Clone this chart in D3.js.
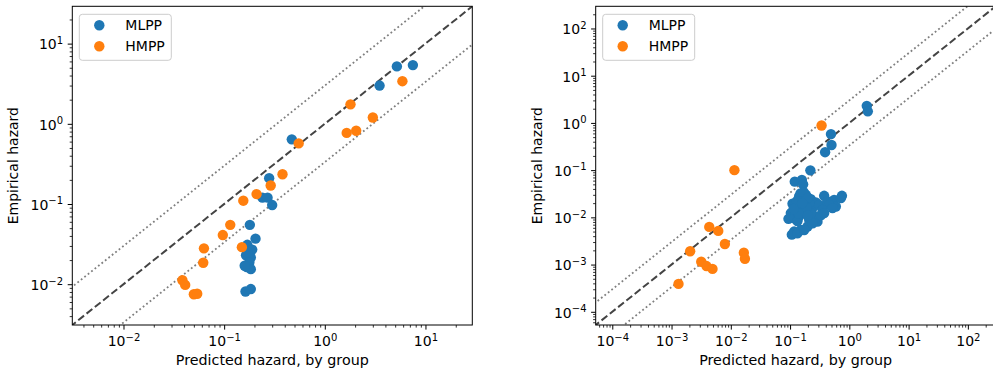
<!DOCTYPE html>
<html>
<head>
<meta charset="utf-8">
<script src="https://cdn.jsdelivr.net/npm/d3@7"></script>
<style>
body { margin: 0; background: #fff; }
text { font-family: "DejaVu Sans", sans-serif; fill: #000; }
</style>
</head>
<body>
<div id="chart"></div>
<script>
var seriesNames = ["MLPP", "HMPP"];
var seriesColors = ["#1f77b4", "#ff7f0e"];

// left panel, predicted vs empirical
var leftMlppPred = [7.5, 5.2, 3.5, 0.47, 0.28, 0.24, 0.27, 0.30, 0.18, 0.205, 0.17, 0.19, 0.165, 0.184, 0.178, 0.168, 0.184, 0.163, 0.184, 0.17, 0.16];
var leftMlppEmp  = [5.4, 5.2, 3.0, 0.64, 0.21, 0.12, 0.12, 0.097, 0.055, 0.037, 0.031, 0.027, 0.023, 0.0215, 0.0186, 0.0164, 0.0154, 0.0081, 0.0087, 0.025, 0.017];
var leftHmppPred = [5.9, 1.8, 3.0, 1.65, 2.05, 0.55, 0.38, 0.29, 0.21, 0.155, 0.115, 0.097, 0.15, 0.063, 0.062, 0.0385, 0.041, 0.05, 0.054];
var leftHmppEmp  = [3.4, 1.75, 1.2, 0.77, 0.82, 0.57, 0.235, 0.17, 0.133, 0.11, 0.055, 0.041, 0.029, 0.028, 0.0185, 0.0112, 0.0098, 0.0075, 0.0076];

// right panel
var rightMlppPred = [1.97, 2.05, 0.49, 0.5, 0.39, 0.22, 0.12, 0.158, 0.166, 0.376, 0.75,
  0.11, 0.142, 0.185, 0.224, 0.272, 0.125, 0.162, 0.103, 0.094, 0.117, 0.142, 0.185, 0.239, 0.31,
  0.427, 0.554, 0.592, 0.457, 0.352, 0.272, 0.21, 0.29, 0.197, 0.152, 0.117, 0.107, 0.133, 0.173,
  0.255, 0.72, 0.162, 0.21, 0.173, 0.133, 0.224, 0.33, 0.376, 0.52,
  0.15, 0.17, 0.2, 0.13, 0.19, 0.16, 0.14, 0.24, 0.115, 0.2];
var rightMlppEmp  = [2.3, 1.76, 0.58, 0.34, 0.24, 0.099, 0.057, 0.062, 0.05, 0.0286, 0.0286,
  0.0194, 0.0277, 0.03, 0.0243, 0.0206, 0.0149, 0.017, 0.0123, 0.0093, 0.0096, 0.0104, 0.0123, 0.0157, 0.0184,
  0.0217, 0.0235, 0.017, 0.0184, 0.0144, 0.0104, 0.0089, 0.0081, 0.0064, 0.0054, 0.005, 0.0043, 0.0046, 0.0054,
  0.0089, 0.0256, 0.0235, 0.02, 0.0123, 0.0083, 0.0123, 0.011, 0.0123, 0.0157,
  0.032, 0.034, 0.026, 0.022, 0.016, 0.02, 0.012, 0.0075, 0.015, 0.011];
var rightHmppPred = [0.34, 0.0115, 0.00433, 0.00614, 0.00794, 0.00206, 0.0166, 0.0173, 0.00317, 0.00389, 0.00491, 0.00131];
var rightHmppEmp  = [0.88, 0.1, 0.00628, 0.00516, 0.00273, 0.00191, 0.00179, 0.00133, 0.00115, 0.00093, 0.00081, 0.00039];

var leftExponents = [-2, -1, 0, 1];
var rightExponents = [-4, -3, -2, -1, 0, 1, 2];
var leftDomain = [0.0031, 29.2];
var rightDomain = [5.25e-5, 295];
var bandFactor = 3;

var xLabel = "Predicted hazard, by group";
var yLabel = "Empirical hazard";

var width = 993, height = 373;
var fs = 14;

var svg = d3.select("#chart")
  .append("svg")
  .attr("width", width)
  .attr("height", height);

function supLabel(sel) {
  sel.each(function(d) {
    var e = Math.round(Math.log10(d));
    var t = d3.select(this);
    t.text(null);
    t.append("tspan").text("10");
    t.append("tspan").attr("dy", -5.5).attr("font-size", 10)
      .text(e < 0 ? "\u2212" + (-e) : String(e));
  });
}

function minorTicks(domain) {
  var out = [];
  var lo = Math.floor(Math.log10(domain[0])), hi = Math.ceil(Math.log10(domain[1]));
  for (var k = lo; k <= hi; k++) {
    for (var m = 2; m <= 9; m++) {
      var v = m * Math.pow(10, k);
      if (v >= domain[0] && v <= domain[1]) out.push(v);
    }
  }
  return out;
}

function drawPanel(id, left, top, w, h, domain, exps, mlpp, hmpp, ylabX) {
  var g = svg.append("g").attr("transform", "translate(" + left + "," + top + ")");

  var x = d3.scaleLog().domain(domain).range([0, w]);
  var y = d3.scaleLog().domain(domain).range([h, 0]);

  g.append("clipPath").attr("id", "clip" + id)
    .append("rect").attr("width", w).attr("height", h);

  var plot = g.append("g").attr("clip-path", "url(#clip" + id + ")");

  var ends = [domain[0] / 100, domain[1] * 100];
  var line = d3.line().x(function(d) { return x(d[0]); }).y(function(d) { return y(d[1]); });

  // y = 3x and y = x/3
  [bandFactor, 1 / bandFactor].forEach(function(f) {
    plot.append("path")
      .datum(ends.map(function(v) { return [v, v * f]; }))
      .attr("d", line)
      .attr("fill", "none")
      .attr("stroke", "#7f7f7f")
      .attr("stroke-width", 1.8)
      .attr("stroke-dasharray", "1.8,2.6");
  });

  plot.append("path")
    .datum(ends.map(function(v) { return [v, v]; }))
    .attr("d", line)
    .attr("fill", "none")
    .attr("stroke", "#444")
    .attr("stroke-width", 2)
    .attr("stroke-dasharray", "7.4,3.2");

  [mlpp, hmpp].forEach(function(s, i) {
    plot.selectAll(".dot" + i)
      .data(s[0].map(function(p, j) { return [p, s[1][j]]; }))
      .enter().append("circle")
      .attr("class", "dot" + i)
      .attr("cx", function(d) { return x(d[0]); })
      .attr("cy", function(d) { return y(d[1]); })
      .attr("r", 5.2)
      .attr("fill", seriesColors[i]);
  });

  var majors = exps.map(function(e) { return Math.pow(10, e); });
  var minors = minorTicks(domain);

  // minor ticks
  g.append("g").attr("transform", "translate(0," + h + ")")
    .call(d3.axisBottom(x).tickValues(minors).tickSize(2.6).tickSizeOuter(0).tickFormat(""))
    .call(function(a) { a.select(".domain").remove(); a.selectAll("line").attr("stroke-width", 0.8); });
  g.append("g")
    .call(d3.axisLeft(y).tickValues(minors).tickSize(2.6).tickSizeOuter(0).tickFormat(""))
    .call(function(a) { a.select(".domain").remove(); a.selectAll("line").attr("stroke-width", 0.8); });

  // major ticks
  var gx = g.append("g").attr("transform", "translate(0," + h + ")")
    .call(d3.axisBottom(x).tickValues(majors).tickSize(4.6).tickPadding(4.6).tickSizeOuter(0));
  gx.select(".domain").remove();
  gx.selectAll(".tick text").attr("font-size", fs).attr("font-family", "DejaVu Sans")
    .attr("y", 21).attr("dy", null).call(supLabel);

  var gy = g.append("g")
    .call(d3.axisLeft(y).tickValues(majors).tickSize(4.6).tickPadding(4.6).tickSizeOuter(0));
  gy.select(".domain").remove();
  gy.selectAll(".tick text").attr("font-size", fs).attr("font-family", "DejaVu Sans")
    .attr("dy", 5.3).call(supLabel);

  g.append("rect")
    .attr("width", w).attr("height", h)
    .attr("fill", "none").attr("stroke", "#000").attr("stroke-width", 1);

  g.append("text")
    .attr("x", w / 2).attr("y", h + 40.5)
    .attr("text-anchor", "middle")
    .attr("font-size", fs)
    .attr("textLength", 193).attr("lengthAdjust", "spacingAndGlyphs")
    .text(xLabel);

  g.append("text")
    .attr("transform", "translate(" + ylabX + "," + (h / 2) + ") rotate(-90)")
    .attr("text-anchor", "middle")
    .attr("font-size", fs)
    .text(yLabel);

  // legend
  var lg = g.append("g").attr("transform", "translate(7,8)");
  lg.append("rect")
    .attr("width", 92).attr("height", 46).attr("rx", 3)
    .attr("fill", "#fff").attr("fill-opacity", 0.8)
    .attr("stroke", "#ccc").attr("stroke-width", 1);
  seriesNames.forEach(function(n, i) {
    lg.append("circle").attr("cx", 20).attr("cy", 11 + i * 21).attr("r", 5.2).attr("fill", seriesColors[i]);
    lg.append("text").attr("x", 46).attr("y", 16 + i * 21).attr("font-size", fs).text(n);
  });
}

drawPanel("L", 72.3, 6.3, 400, 318.7, leftDomain, leftExponents,
  [leftMlppPred, leftMlppEmp], [leftHmppPred, leftHmppEmp], -54.3);
drawPanel("R", 595.7, 6.3, 400, 318.7, rightDomain, rightExponents,
  [rightMlppPred, rightMlppEmp], [rightHmppPred, rightHmppEmp], -53.7);
</script>
</body>
</html>
